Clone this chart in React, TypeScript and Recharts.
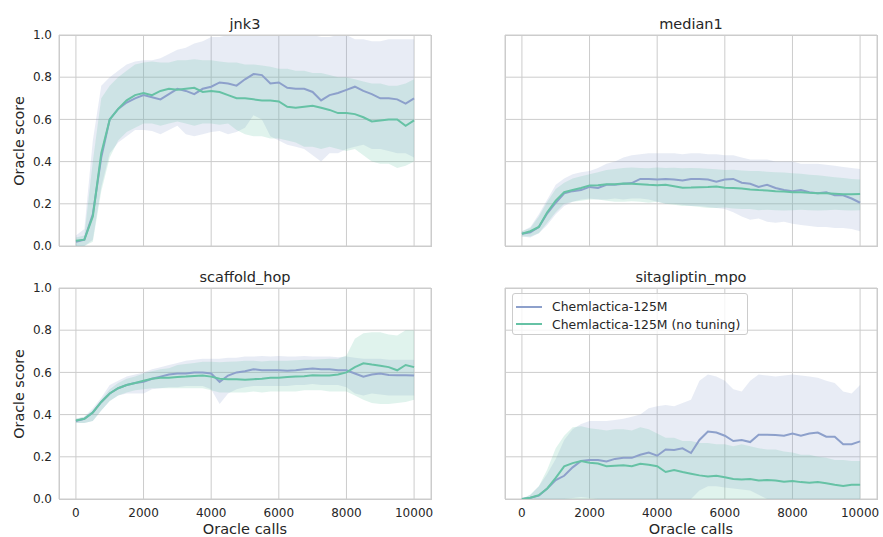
import React from 'react';
import { Area, CartesianGrid, ComposedChart, Line, XAxis, YAxis } from 'recharts';

const CALLS = [
  0, 250, 500, 750, 1000, 1250, 1500, 1750, 2000, 2250, 2500, 2750, 3000, 3250, 3500, 3750, 4000, 4250, 4500, 4750,
  5000, 5250, 5500, 5750, 6000, 6250, 6500, 6750, 7000, 7250, 7500, 7750, 8000, 8250, 8500, 8750, 9000, 9250, 9500,
  9750, 10000,
];
const X_TICKS = [0, 2000, 4000, 6000, 8000, 10000];
const Y_TICKS = [0, 0.2, 0.4, 0.6, 0.8, 1.0];
const SERIES_NAMES = ['Chemlactica-125M', 'Chemlactica-125M (no tuning)'];

// jnk3
const jnk3Blue = [0.02, 0.03, 0.15, 0.42, 0.6, 0.65, 0.68, 0.7, 0.715, 0.705, 0.695, 0.72, 0.745, 0.735, 0.72, 0.745, 0.755, 0.775, 0.77, 0.76, 0.79, 0.815, 0.81, 0.77, 0.775, 0.75, 0.745, 0.745, 0.73, 0.69, 0.715, 0.725, 0.74, 0.755, 0.735, 0.72, 0.7, 0.7, 0.695, 0.675, 0.7];
const jnk3BlueLo = [0, 0, 0.03, 0.28, 0.44, 0.49, 0.52, 0.55, 0.55, 0.545, 0.53, 0.55, 0.57, 0.53, 0.52, 0.53, 0.54, 0.545, 0.53, 0.54, 0.56, 0.62, 0.6, 0.52, 0.5, 0.48, 0.47, 0.46, 0.43, 0.4, 0.44, 0.44, 0.46, 0.47, 0.48, 0.46, 0.46, 0.45, 0.44, 0.44, 0.42];
const jnk3BlueHi = [0.05, 0.08, 0.5, 0.76, 0.8, 0.83, 0.86, 0.875, 0.88, 0.88, 0.89, 0.91, 0.93, 0.94, 0.96, 0.97, 0.99, 0.99, 1, 1, 1, 1, 1, 1, 1, 1, 1, 1, 1, 0.99, 0.99, 1, 1, 0.98, 0.98, 0.97, 0.97, 0.98, 0.98, 0.98, 0.98];
const jnk3Green = [0.025, 0.03, 0.14, 0.44, 0.6, 0.65, 0.69, 0.715, 0.725, 0.715, 0.735, 0.745, 0.74, 0.745, 0.75, 0.73, 0.735, 0.73, 0.715, 0.7, 0.7, 0.695, 0.69, 0.69, 0.685, 0.66, 0.655, 0.66, 0.665, 0.655, 0.645, 0.63, 0.63, 0.625, 0.61, 0.59, 0.595, 0.6, 0.6, 0.57, 0.595];
const jnk3GreenLo = [0, 0, 0.02, 0.26, 0.42, 0.5, 0.54, 0.56, 0.58, 0.58, 0.57, 0.58, 0.59, 0.58, 0.57, 0.58, 0.58, 0.575, 0.58, 0.55, 0.53, 0.52, 0.52, 0.51, 0.51, 0.5, 0.49, 0.47, 0.47, 0.46, 0.47, 0.46, 0.45, 0.46, 0.43, 0.4, 0.39, 0.39, 0.37, 0.38, 0.4];
const jnk3GreenHi = [0.04, 0.05, 0.4, 0.7, 0.76, 0.8, 0.83, 0.86, 0.87, 0.875, 0.87, 0.87, 0.88, 0.88, 0.885, 0.88, 0.88, 0.875, 0.87, 0.87, 0.86, 0.86, 0.855, 0.85, 0.84, 0.84, 0.83, 0.83, 0.82, 0.82, 0.81, 0.8, 0.8, 0.79, 0.78, 0.77, 0.77, 0.76, 0.76, 0.77, 0.79];

// median1
const medBlue = [0.058, 0.065, 0.09, 0.155, 0.205, 0.25, 0.26, 0.265, 0.28, 0.275, 0.29, 0.29, 0.295, 0.298, 0.318, 0.318, 0.315, 0.318, 0.315, 0.31, 0.318, 0.318, 0.315, 0.305, 0.315, 0.318, 0.3, 0.295, 0.28, 0.29, 0.275, 0.265, 0.26, 0.265, 0.255, 0.25, 0.255, 0.24, 0.24, 0.225, 0.205];
const medBlueLo = [0.045, 0.04, 0.06, 0.1, 0.15, 0.19, 0.21, 0.22, 0.225, 0.22, 0.22, 0.225, 0.22, 0.225, 0.225, 0.22, 0.21, 0.2, 0.2, 0.195, 0.19, 0.19, 0.185, 0.18, 0.175, 0.16, 0.14, 0.125, 0.13, 0.115, 0.11, 0.115, 0.105, 0.1, 0.095, 0.09, 0.09, 0.085, 0.085, 0.08, 0.07];
const medBlueHi = [0.07, 0.09, 0.15, 0.22, 0.29, 0.32, 0.34, 0.35, 0.355, 0.37, 0.39, 0.4, 0.42, 0.43, 0.435, 0.44, 0.44, 0.44, 0.44, 0.435, 0.44, 0.44, 0.435, 0.435, 0.43, 0.43, 0.42, 0.41, 0.41, 0.41, 0.4, 0.4, 0.4, 0.39, 0.39, 0.39, 0.385, 0.38, 0.375, 0.37, 0.365];
const medGreen = [0.058, 0.07, 0.09, 0.16, 0.215, 0.255, 0.265, 0.275, 0.287, 0.288, 0.293, 0.293, 0.296, 0.295, 0.293, 0.29, 0.288, 0.29, 0.283, 0.276, 0.277, 0.279, 0.28, 0.282, 0.276, 0.275, 0.272, 0.268, 0.265, 0.263, 0.26, 0.258, 0.255, 0.255, 0.252, 0.25, 0.25, 0.248, 0.245, 0.245, 0.247];
const medGreenLo = [0.045, 0.045, 0.06, 0.11, 0.16, 0.2, 0.21, 0.215, 0.22, 0.22, 0.215, 0.21, 0.21, 0.212, 0.21, 0.205, 0.21, 0.2, 0.195, 0.19, 0.19, 0.185, 0.18, 0.18, 0.182, 0.178, 0.175, 0.175, 0.17, 0.172, 0.17, 0.168, 0.17, 0.172, 0.17, 0.168, 0.17, 0.172, 0.17, 0.168, 0.17];
const medGreenHi = [0.07, 0.085, 0.14, 0.21, 0.27, 0.3, 0.32, 0.33, 0.34, 0.35, 0.36, 0.365, 0.37, 0.372, 0.37, 0.368, 0.372, 0.37, 0.371, 0.368, 0.37, 0.368, 0.366, 0.364, 0.36, 0.361, 0.358, 0.356, 0.355, 0.352, 0.35, 0.348, 0.345, 0.342, 0.338, 0.335, 0.33, 0.326, 0.322, 0.318, 0.315];

// scaffold_hop
const scBlue = [0.37, 0.38, 0.41, 0.46, 0.5, 0.525, 0.54, 0.55, 0.555, 0.57, 0.58, 0.59, 0.595, 0.595, 0.6, 0.6, 0.595, 0.555, 0.585, 0.6, 0.605, 0.615, 0.61, 0.61, 0.61, 0.608, 0.61, 0.615, 0.618, 0.615, 0.615, 0.61, 0.61, 0.595, 0.58, 0.59, 0.595, 0.588, 0.587, 0.587, 0.585];
const scBlueLo = [0.36, 0.36, 0.37, 0.42, 0.465, 0.49, 0.5, 0.5, 0.5, 0.52, 0.525, 0.53, 0.53, 0.535, 0.535, 0.535, 0.52, 0.45, 0.5, 0.52, 0.53, 0.535, 0.535, 0.535, 0.535, 0.535, 0.54, 0.54, 0.545, 0.54, 0.54, 0.54, 0.53, 0.5, 0.49, 0.5, 0.495, 0.49, 0.49, 0.49, 0.49];
const scBlueHi = [0.38, 0.39, 0.43, 0.48, 0.54, 0.56, 0.58, 0.59, 0.6, 0.615, 0.625, 0.635, 0.645, 0.655, 0.66, 0.665, 0.665, 0.665, 0.67, 0.67, 0.675, 0.675, 0.678, 0.675, 0.678, 0.675, 0.675, 0.678, 0.675, 0.675, 0.675, 0.672, 0.675, 0.67, 0.665, 0.665, 0.665, 0.66, 0.66, 0.66, 0.66];
const scGreen = [0.372, 0.38, 0.41, 0.46, 0.5, 0.525, 0.54, 0.55, 0.56, 0.57, 0.575, 0.575, 0.578, 0.58, 0.583, 0.585, 0.58, 0.57, 0.568, 0.568, 0.565, 0.568, 0.57, 0.575, 0.575, 0.578, 0.58, 0.582, 0.587, 0.585, 0.585, 0.59, 0.6, 0.625, 0.643, 0.637, 0.632, 0.625, 0.61, 0.635, 0.625];
const scGreenLo = [0.36, 0.36, 0.37, 0.42, 0.465, 0.49, 0.505, 0.515, 0.52, 0.525, 0.525, 0.525, 0.525, 0.525, 0.525, 0.525, 0.515, 0.505, 0.505, 0.505, 0.505, 0.51, 0.505, 0.51, 0.51, 0.51, 0.51, 0.515, 0.515, 0.515, 0.51, 0.51, 0.51, 0.49, 0.47, 0.455, 0.45, 0.45, 0.455, 0.46, 0.47];
const scGreenHi = [0.38, 0.39, 0.42, 0.47, 0.52, 0.55, 0.57, 0.58, 0.595, 0.605, 0.615, 0.62, 0.635, 0.64, 0.645, 0.65, 0.65, 0.648, 0.65, 0.652, 0.655, 0.655, 0.652, 0.655, 0.655, 0.655, 0.658, 0.66, 0.66, 0.662, 0.665, 0.665, 0.68, 0.76, 0.785, 0.79, 0.79, 0.78, 0.775, 0.8, 0.8];

// sitagliptin_mpo
const siBlue = [0, 0.006, 0.016, 0.05, 0.09, 0.11, 0.15, 0.18, 0.185, 0.185, 0.178, 0.19, 0.195, 0.195, 0.21, 0.22, 0.205, 0.235, 0.232, 0.24, 0.218, 0.28, 0.32, 0.315, 0.3, 0.275, 0.28, 0.27, 0.305, 0.305, 0.303, 0.3, 0.31, 0.3, 0.31, 0.315, 0.295, 0.295, 0.26, 0.26, 0.273];
const siBlueLo = [0, 0, 0, 0, 0, 0, 0.005, 0.01, 0.005, 0, 0, 0, 0, 0, 0, 0, 0, 0, 0, 0, 0, 0.04, 0.06, 0.06, 0.055, 0.05, 0.045, 0.04, 0.02, 0, 0, 0, 0, 0, 0, 0, 0, 0, 0, 0, 0];
const siBlueHi = [0, 0.02, 0.06, 0.12, 0.19, 0.28, 0.33, 0.355, 0.37, 0.37, 0.37, 0.375, 0.38, 0.39, 0.4, 0.43, 0.44, 0.445, 0.44, 0.455, 0.47, 0.56, 0.59, 0.58, 0.56, 0.52, 0.51, 0.56, 0.59, 0.585, 0.58, 0.585, 0.59, 0.585, 0.58, 0.575, 0.56, 0.55, 0.51, 0.5, 0.54];
const siGreen = [0, 0.006, 0.018, 0.05, 0.1, 0.155, 0.17, 0.18, 0.172, 0.168, 0.155, 0.158, 0.16, 0.155, 0.167, 0.162, 0.155, 0.128, 0.137, 0.128, 0.12, 0.112, 0.107, 0.11, 0.103, 0.095, 0.092, 0.095, 0.088, 0.09, 0.088, 0.082, 0.085, 0.08, 0.077, 0.08, 0.075, 0.068, 0.062, 0.068, 0.068];
const siGreenLo = [0, 0, 0, 0, 0, 0, 0, 0, 0, 0, 0, 0, 0, 0, 0, 0, 0, 0, 0, 0, 0, 0, 0, 0, 0, 0, 0, 0, 0, 0, 0, 0, 0, 0, 0, 0, 0, 0, 0, 0, 0];
const siGreenHi = [0, 0.02, 0.06, 0.14, 0.24, 0.3, 0.34, 0.345, 0.335, 0.33, 0.325, 0.33, 0.33, 0.325, 0.34, 0.33, 0.31, 0.29, 0.29, 0.275, 0.275, 0.265, 0.265, 0.26, 0.26, 0.25, 0.26, 0.25, 0.24, 0.235, 0.235, 0.225, 0.22, 0.21, 0.21, 0.2, 0.195, 0.185, 0.185, 0.18, 0.18];

const BLUE = '#8da0cb';
const GREEN = '#66c2a5';
const TEXT = '#262626';
const GRID = '#cccccc';
const FONT = '"DejaVu Sans", sans-serif';

const PLOT_W = 372;
const PLOT_H = 211;

const panels = [
  { title: 'jnk3', left: 59, top: 35, showY: true, showX: false, legend: false,
    blue: jnk3Blue, blueLo: jnk3BlueLo, blueHi: jnk3BlueHi, green: jnk3Green, greenLo: jnk3GreenLo, greenHi: jnk3GreenHi },
  { title: 'median1', left: 505, top: 35, showY: false, showX: false, legend: false,
    blue: medBlue, blueLo: medBlueLo, blueHi: medBlueHi, green: medGreen, greenLo: medGreenLo, greenHi: medGreenHi },
  { title: 'scaffold_hop', left: 59, top: 288, showY: true, showX: true, legend: false,
    blue: scBlue, blueLo: scBlueLo, blueHi: scBlueHi, green: scGreen, greenLo: scGreenLo, greenHi: scGreenHi },
  { title: 'sitagliptin_mpo', left: 505, top: 288, showY: false, showX: true, legend: true,
    blue: siBlue, blueLo: siBlueLo, blueHi: siBlueHi, green: siGreen, greenLo: siGreenLo, greenHi: siGreenHi },
];

function Panel({ p }: { p: (typeof panels)[number] }) {
  const rows = CALLS.map((c, i) => ({
    c,
    blue: p.blue[i],
    green: p.green[i],
    blueBand: [p.blueLo[i], p.blueHi[i]],
    greenBand: [p.greenLo[i], p.greenHi[i]],
  }));

  const yW = p.showY ? 59 : 0;
  const mL = p.showY ? 0 : 5;
  const xH = p.showX ? 30 : 0;
  const mB = p.showX ? 0 : 12;
  const width = mL + yW + PLOT_W + 4;
  const height = 10 + PLOT_H + xH + mB;
  const tick = { fill: TEXT, fontSize: 12, fontFamily: FONT };

  return (
    <>
      <div style={{ position: 'absolute', left: p.left - yW - mL, top: p.top - 10 }}>
        <ComposedChart width={width} height={height} data={rows} margin={{ top: 10, right: 4, bottom: mB, left: mL }}>
          <CartesianGrid stroke={GRID} strokeWidth={1} />
          <XAxis
            dataKey='c'
            type='number'
            domain={[-500, 10500]}
            ticks={X_TICKS}
            interval={0}
            allowDataOverflow
            hide={!p.showX}
            height={xH}
            axisLine={false}
            tickLine={false}
            tickSize={0}
            tickMargin={9}
            tick={tick}
          />
          <YAxis
            type='number'
            domain={[0, 1]}
            ticks={Y_TICKS}
            interval={0}
            allowDataOverflow
            hide={!p.showY}
            width={yW}
            axisLine={false}
            tickLine={false}
            tickSize={0}
            tickMargin={7}
            tick={tick}
            tickFormatter={(v: number) => v.toFixed(1)}
          />
          <Line type='linear' dataKey='blue' stroke={BLUE} strokeWidth={2} dot={false} isAnimationActive={false} />
          <Area type='linear' dataKey='blueBand' stroke='none' fill={BLUE} fillOpacity={0.2} isAnimationActive={false} />
          <Line type='linear' dataKey='green' stroke={GREEN} strokeWidth={2} dot={false} isAnimationActive={false} />
          <Area type='linear' dataKey='greenBand' stroke='none' fill={GREEN} fillOpacity={0.2} isAnimationActive={false} />
        </ComposedChart>
      </div>
      {/* axes frame */}
      <div
        style={{
          position: 'absolute',
          left: p.left,
          top: p.top,
          width: PLOT_W + 1,
          height: PLOT_H + 1,
          border: `1px solid ${GRID}`,
          boxSizing: 'border-box',
          pointerEvents: 'none',
        }}
      />
      <div
        style={{
          position: 'absolute',
          left: p.left,
          top: p.top - 18,
          width: PLOT_W,
          textAlign: 'center',
          fontSize: 14.5,
          lineHeight: '14.5px',
        }}
      >
        {p.title}
      </div>
      {p.showY && (
        <div
          style={{
            position: 'absolute',
            left: 19 - 100,
            top: p.top + PLOT_H / 2 - 7,
            width: 200,
            height: 14,
            textAlign: 'center',
            fontSize: 14.3,
            lineHeight: '14px',
            transform: 'rotate(-90deg)',
          }}
        >
          Oracle score
        </div>
      )}
      {p.showX && (
        <div
          style={{
            position: 'absolute',
            left: p.left,
            top: p.top + PLOT_H + 23,
            width: PLOT_W,
            textAlign: 'center',
            fontSize: 14.5,
            lineHeight: '14.5px',
          }}
        >
          Oracle calls
        </div>
      )}
      {p.legend && (
        <div
          style={{
            position: 'absolute',
            left: p.left + 7,
            top: p.top + 5,
            width: 236,
            height: 42,
            boxSizing: 'border-box',
            border: `1px solid ${GRID}`,
            borderRadius: 3,
            background: 'rgba(255,255,255,0.8)',
            fontSize: 12.4,
          }}
        >
          {SERIES_NAMES.map((name, i) => (
            <div key={name} style={{ position: 'absolute', left: 3, top: 4 + i * 17.6, height: 17, display: 'flex', alignItems: 'center' }}>
              <div style={{ width: 26, height: 2, background: i === 0 ? BLUE : GREEN, marginRight: 10 }} />
              <span>{name}</span>
            </div>
          ))}
        </div>
      )}
    </>
  );
}

export default function App() {
  return (
    <div
      style={{
        position: 'absolute',
        left: 0,
        top: 0,
        width: 883,
        height: 537,
        background: '#fff',
        fontFamily: FONT,
        color: TEXT,
        overflow: 'hidden',
      }}
    >
      {panels.map((p) => (
        <Panel key={p.title} p={p} />
      ))}
    </div>
  );
}
